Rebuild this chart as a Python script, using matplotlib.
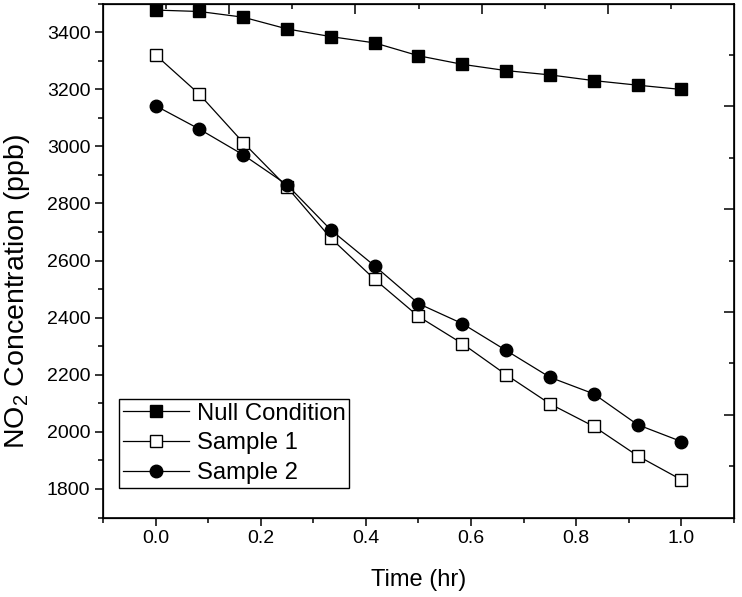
import matplotlib
matplotlib.use("Agg")
import matplotlib.pyplot as plt
from matplotlib.ticker import MultipleLocator, FixedLocator

plt.rcParams["font.family"] = ["Liberation Sans", "DejaVu Sans"]
plt.rcParams["mathtext.fontset"] = "custom"
plt.rcParams["mathtext.rm"] = "Liberation Sans"

# time in hours, every 5 minutes
time_hr = [i / 12 for i in range(13)]

null_cond = [3477, 3472, 3452, 3411, 3384, 3362, 3317, 3287, 3265, 3250, 3230, 3214, 3199]
sample1 = [3320, 3182, 3013, 2857, 2678, 2534, 2404, 2309, 2200, 2098, 2019, 1916, 1832]
sample2 = [3142, 3060, 2970, 2865, 2707, 2581, 2449, 2379, 2285, 2191, 2133, 2025, 1966]

fig = plt.figure(figsize=(7.42, 5.97), dpi=100)
ax = fig.add_axes([103 / 742, 1 - 517.5 / 597, 631 / 742, 514 / 597])

ax.plot(time_hr, null_cond, color="black", lw=0.9, marker="s", ms=8,
        mfc="black", mec="black", label="Null Condition")
ax.plot(time_hr, sample1, color="black", lw=0.9, marker="s", ms=8,
        mfc="white", mec="black", mew=1.0, label="Sample 1")
ax.plot(time_hr, sample2, color="black", lw=0.9, marker="o", ms=9,
        mfc="black", mec="black", label="Sample 2")

ax.set_xlim(-0.1, 1.1)
ax.set_ylim(1700, 3500)
ax.xaxis.set_major_locator(FixedLocator([0.0, 0.2, 0.4, 0.6, 0.8, 1.0]))
ax.xaxis.set_minor_locator(FixedLocator([-0.1, 0.1, 0.3, 0.5, 0.7, 0.9, 1.1]))
ax.yaxis.set_major_locator(FixedLocator([1800, 2000, 2200, 2400, 2600, 2800, 3000, 3200, 3400]))
ax.yaxis.set_minor_locator(MultipleLocator(100))
ax.set_xticklabels(["0.0", "0.2", "0.4", "0.6", "0.8", "1.0"])

ax.tick_params(which="major", direction="out", length=6, width=1.1, labelsize=14, pad=3)
ax.tick_params(which="minor", direction="out", length=3.8, width=1.1)
for s in ax.spines.values():
    s.set_linewidth(1.2)

ax.set_xlabel("Time (hr)", fontsize=17, labelpad=16)
ax.set_ylabel(r"NO$_\mathregular{2}$ Concentration (ppb)", fontsize=20.5)
ax.yaxis.set_label_coords(-0.113, 0.44)

# top and right mirror axes with their own inward ticks
axt = ax.twiny()
axt.set_xlim(0, 10)
axt.xaxis.set_major_locator(FixedLocator([2, 4, 6, 8]))
axt.xaxis.set_minor_locator(FixedLocator([1, 3, 5, 7, 9]))
axt.tick_params(which="major", direction="in", length=7.5, width=1.1, labeltop=False)
axt.tick_params(which="minor", direction="in", length=3.8, width=1.1)

axr = ax.twinx()
axr.set_ylim(0, 10)
axr.yaxis.set_major_locator(FixedLocator([2, 4, 6, 8]))
axr.yaxis.set_minor_locator(FixedLocator([1, 3, 5, 7, 9]))
axr.tick_params(which="major", direction="in", length=7, width=1.1, labelright=False)
axr.tick_params(which="minor", direction="in", length=3.3, width=1.1)

leg = ax.legend(loc="lower left", bbox_to_anchor=(16.3 / 631, 29.8 / 514),
                borderaxespad=0, fontsize=17.2, handlelength=2.75, handletextpad=0.35,
                borderpad=0.15, labelspacing=0.32, fancybox=False, framealpha=1,
                edgecolor="black")
leg.get_frame().set_linewidth(1.0)

fig.savefig("out.png", dpi=100)
